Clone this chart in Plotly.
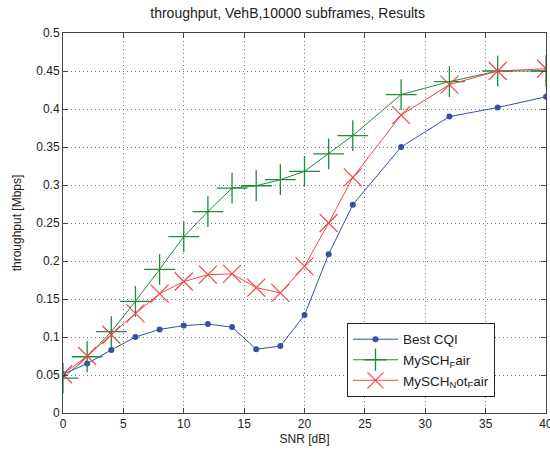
import plotly.graph_objects as go

snr = [0, 2, 4, 6, 8, 10, 12, 14, 16, 18, 20, 22, 24, 28, 32, 36, 40]
best_cqi = [0.051, 0.065, 0.083, 0.100, 0.110, 0.115, 0.117, 0.113, 0.084, 0.088, 0.129, 0.209, 0.274, 0.350, 0.390, 0.402, 0.416]
fair = [0.046, 0.074, 0.107, 0.147, 0.189, 0.232, 0.265, 0.296, 0.299, 0.307, 0.318, 0.341, 0.365, 0.419, 0.436, 0.450, 0.450]
not_fair = [0.051, 0.075, 0.103, 0.131, 0.157, 0.173, 0.182, 0.183, 0.165, 0.158, 0.193, 0.250, 0.310, 0.392, 0.432, 0.450, 0.453]

x_ticks = [0, 5, 10, 15, 20, 25, 30, 35, 40]
y_ticks = [0, 0.05, 0.1, 0.15, 0.2, 0.25, 0.3, 0.35, 0.4, 0.45, 0.5]
y_labels = ["0", "0.05", "0.1", "0.15", "0.2", "0.25", "0.3", "0.35", "0.4", "0.45", "0.5"]

blue = "#3550a5"
green = "#1e8c3c"
red = "#f0474a"

fig = go.Figure()
fig.add_trace(go.Scatter(x=snr, y=best_cqi, mode="lines+markers", name="Best CQI",
                         line=dict(color=blue, width=1),
                         marker=dict(symbol="circle", size=6, color=blue)))
fig.add_trace(go.Scatter(x=snr, y=fair, mode="lines+markers", name="MySCH<sub>F</sub>air",
                         line=dict(color=green, width=1),
                         marker=dict(symbol="cross-thin", size=22, color=green,
                                     line=dict(color=green, width=1.3))))
fig.add_trace(go.Scatter(x=snr, y=not_fair, mode="lines+markers", name="MySCH<sub>N</sub>ot<sub>F</sub>air",
                         line=dict(color=red, width=1),
                         marker=dict(symbol="x-thin", size=18, color=red,
                                     line=dict(color=red, width=1.2))))

axis_common = dict(showline=True, linecolor="#444444", linewidth=1, mirror="ticks",
                   ticks="inside", ticklen=5, tickcolor="#444444",
                   showgrid=True, gridcolor="#777777", griddash="1px,3px", gridwidth=1,
                   zeroline=False, ticklabeloverflow="allow", automargin=False,
                   tickfont=dict(size=12, color="#222222"))

fig.update_xaxes(range=[0, 40], tickvals=x_ticks, title=dict(text="SNR [dB]", standoff=4, font=dict(size=12)),
                 **axis_common)
fig.update_yaxes(range=[0, 0.5], tickvals=y_ticks, ticktext=y_labels,
                 title=dict(text="throughput [Mbps]", standoff=12, font=dict(size=12)), **axis_common)

fig.update_layout(
    width=550, height=455,
    margin=dict(l=63, r=4, t=33, b=42),
    paper_bgcolor="white", plot_bgcolor="white",
    font=dict(family="Liberation Sans, Arial, sans-serif", size=12, color="#222222"),
    title=dict(text="throughput, VehB,10000 subframes, Results", x=0.523, xanchor="center",
               y=0.983, yanchor="top", font=dict(size=14)),
    showlegend=True,
    legend=dict(x=0.588, y=0.237, xanchor="left", yanchor="top",
                bgcolor="white", bordercolor="#222222", borderwidth=1,
                font=dict(size=13.5), tracegroupgap=0, itemwidth=45),
)

fig.write_html("out.html")
